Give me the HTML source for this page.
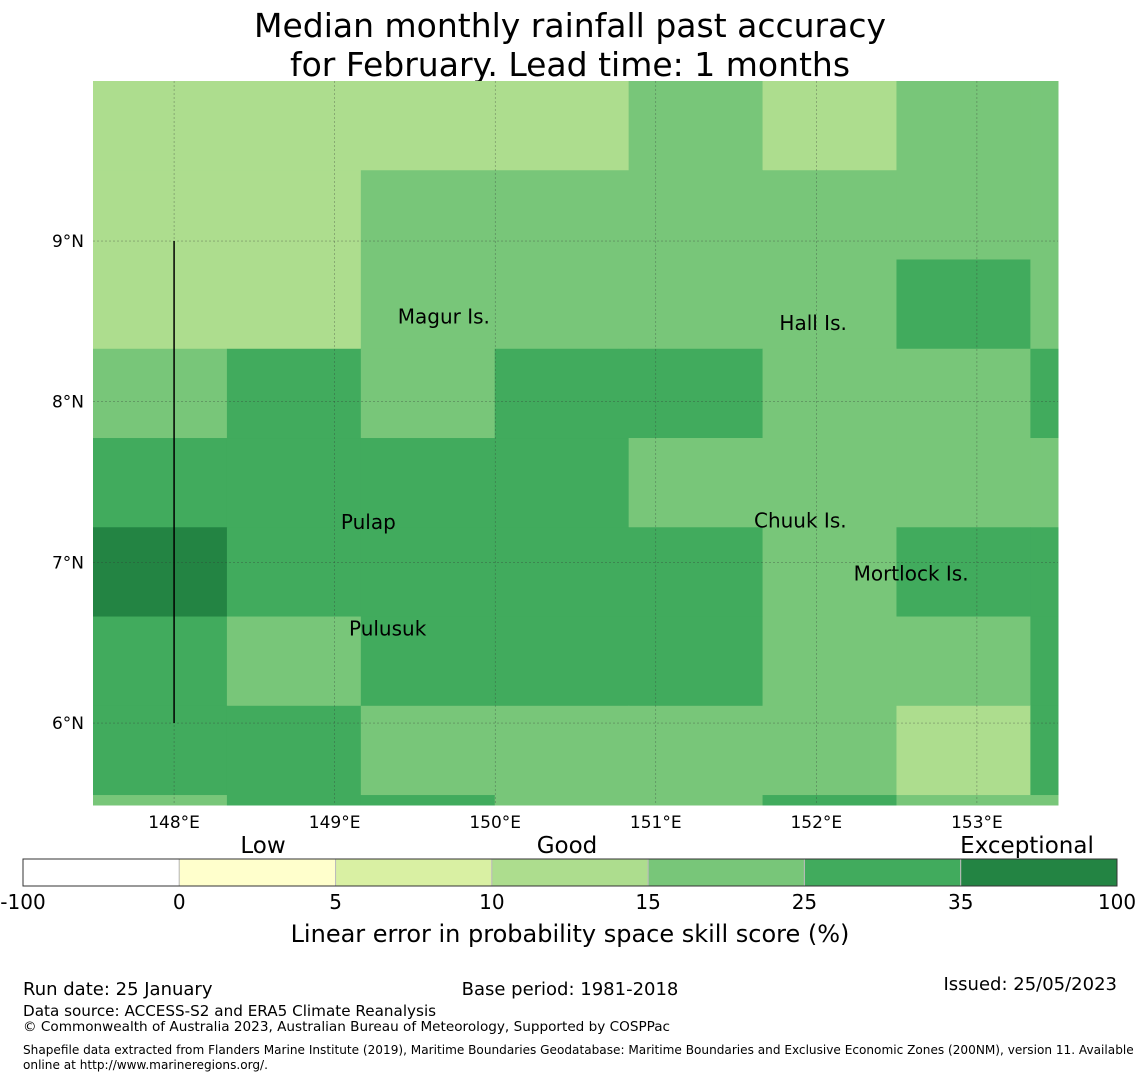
<!DOCTYPE html>
<html><head><meta charset="utf-8"><style>
body{margin:0;background:#fff;}
svg{display:block;font-family:"DejaVu Sans","Liberation Sans",sans-serif;}
</style></head><body>
<svg id="chart" width="1140" height="1080" viewBox="0 0 1140 1080">
<text x="570" y="37" font-size="33" text-anchor="middle">Median monthly rainfall past accuracy</text>
<text x="570" y="76" font-size="33" text-anchor="middle">for February. Lead time: 1 months</text>
<g id="cells"></g>
<g id="grid"></g>
<g id="axes"></g>
<g id="cbar"></g>
<text x="263" y="853" font-size="23" text-anchor="middle">Low</text>
<text x="567" y="853" font-size="23" text-anchor="middle">Good</text>
<text x="1027" y="853" font-size="23" text-anchor="middle">Exceptional</text>
<text x="570" y="942" font-size="24" text-anchor="middle">Linear error in probability space skill score (%)</text>
<text x="23" y="995" font-size="18">Run date: 25 January</text>
<text x="570" y="995" font-size="18" text-anchor="middle">Base period: 1981-2018</text>
<text x="1117" y="990" font-size="18" text-anchor="end">Issued: 25/05/2023</text>
<text x="23" y="1016" font-size="15.2">Data source: ACCESS-S2 and ERA5 Climate Reanalysis</text>
<text x="23" y="1031" font-size="13.6">© Commonwealth of Australia 2023, Australian Bureau of Meteorology, Supported by COSPPac</text>
<text x="23" y="1054" font-size="12.1">Shapefile data extracted from Flanders Marine Institute (2019), Maritime Boundaries Geodatabase: Maritime Boundaries and Exclusive Economic Zones (200NM), version 11. Available</text>
<text x="23" y="1069" font-size="12.1">online at http://www.marineregions.org/.</text>
</svg>
<script>
// grid of skill scores (%) rows top->bottom, cols left->right
const rowsSkill = [
 [12,12,12,12,20,12,20,20],
 [12,12,20,20,20,20,20,20],
 [12,12,20,20,20,20,30,20],
 [20,30,20,30,30,20,20,30],
 [30,30,30,30,20,20,20,20],
 [40,30,30,30,30,20,30,30],
 [30,20,30,30,30,20,20,30],
 [30,30,20,20,20,20,12,30],
 [20,30,30,20,20,30,20,20]
];
const binEdges = [-100,0,5,10,15,25,35,100];
const binColors = ["#ffffff","#ffffcc","#d9f0a3","#addd8e","#78c679","#41ab5d","#238443"];
const lonTicks = [148,149,150,151,152,153];
const latTicks = [9,8,7,6];
const islands = [
 {name:"Magur Is.", lon:149.68, lat:8.53},
 {name:"Hall Is.", lon:151.98, lat:8.49},
 {name:"Pulap", lon:149.21, lat:7.25},
 {name:"Chuuk Is.", lon:151.9, lat:7.26},
 {name:"Mortlock Is.", lon:152.59, lat:6.93},
 {name:"Pulusuk", lon:149.33, lat:6.59}
];
const NS="http://www.w3.org/2000/svg";
const X0=93,X1=1058,Y0=81,Y1=805;
const lonMin=147.495,lonMax=153.505,latMin=5.49,latMax=9.996;
const xs=lon=>X0+(lon-lonMin)/(lonMax-lonMin)*(X1-X0);
const ys=lat=>Y0+(latMax-lat)/(latMax-latMin)*(Y1-Y0);
const cellLon=0.834, cellLat=0.5555;
function mk(tag,attrs,parent){const e=document.createElementNS(NS,tag);for(const k in attrs)e.setAttribute(k,attrs[k]);parent.appendChild(e);return e;}
function colorFor(v){for(let i=0;i<binColors.length;i++){if(v<binEdges[i+1])return binColors[i];}return binColors[binColors.length-1];}
const cells=document.getElementById('cells');
rowsSkill.forEach((row,r)=>{row.forEach((v,c)=>{
 const lonA=lonMin+c*cellLon, lonB=Math.min(lonMax,lonA+cellLon);
 const yA=ys(latMax-(r*cellLat)), yB=Math.min(Y1,ys(latMax-((r+1)*cellLat)));
 const x1=xs(lonA), x2=xs(lonB);
 const e=mk('rect',{x:x1,y:yA,width:Math.max(0,x2-x1)+0.5,height:Math.max(0,yB-yA)+0.5,fill:colorFor(v)},cells);
 
 
});});
const grid=document.getElementById('grid'), axes=document.getElementById('axes');
lonTicks.forEach(l=>{
 const g=mk('line',{x1:xs(l),x2:xs(l),y1:Y0,y2:Y1,stroke:'#333','stroke-width':0.5,'stroke-dasharray':'2,2','stroke-opacity':0.6},grid);
 
 
 const t=mk('text',{x:xs(l),y:828,'font-size':17,'text-anchor':'middle'},axes);t.textContent=l+'°E';
 
 
});
latTicks.forEach(l=>{
 const g=mk('line',{x1:X0,x2:X1,y1:ys(l),y2:ys(l),stroke:'#333','stroke-width':0.5,'stroke-dasharray':'2,2','stroke-opacity':0.6},grid);
 
 
 const t=mk('text',{x:84,y:ys(l)+6,'font-size':17,'text-anchor':'end'},axes);t.textContent=l+'°N';
 
 
});
const vl=mk('line',{x1:xs(148),x2:xs(148),y1:ys(9),y2:ys(6),stroke:'#000','stroke-width':1.5},axes);


islands.forEach(is=>{
 const t=mk('text',{x:xs(is.lon),y:ys(is.lat)+7,'font-size':20,'text-anchor':'middle'},axes);t.textContent=is.name;
 
 
});
const cb=document.getElementById('cbar');
const cbX=23,cbW=1094,cbY=859,cbH=27,segW=cbW/binColors.length;
binColors.forEach((c,i)=>{
 const r=mk('rect',{x:cbX+i*segW,y:cbY,width:segW,height:cbH,fill:c,stroke:'#bbb','stroke-width':1},cb);
 
 
});
mk('rect',{x:cbX,y:cbY,width:cbW,height:cbH,fill:'none',stroke:'#333','stroke-width':1},cb);
binEdges.forEach((v,i)=>{
 const t=mk('text',{x:cbX+i*segW,y:909,'font-size':20,'text-anchor':'middle'},cb);t.textContent=v;
 
 
});
</script>
</body></html>
